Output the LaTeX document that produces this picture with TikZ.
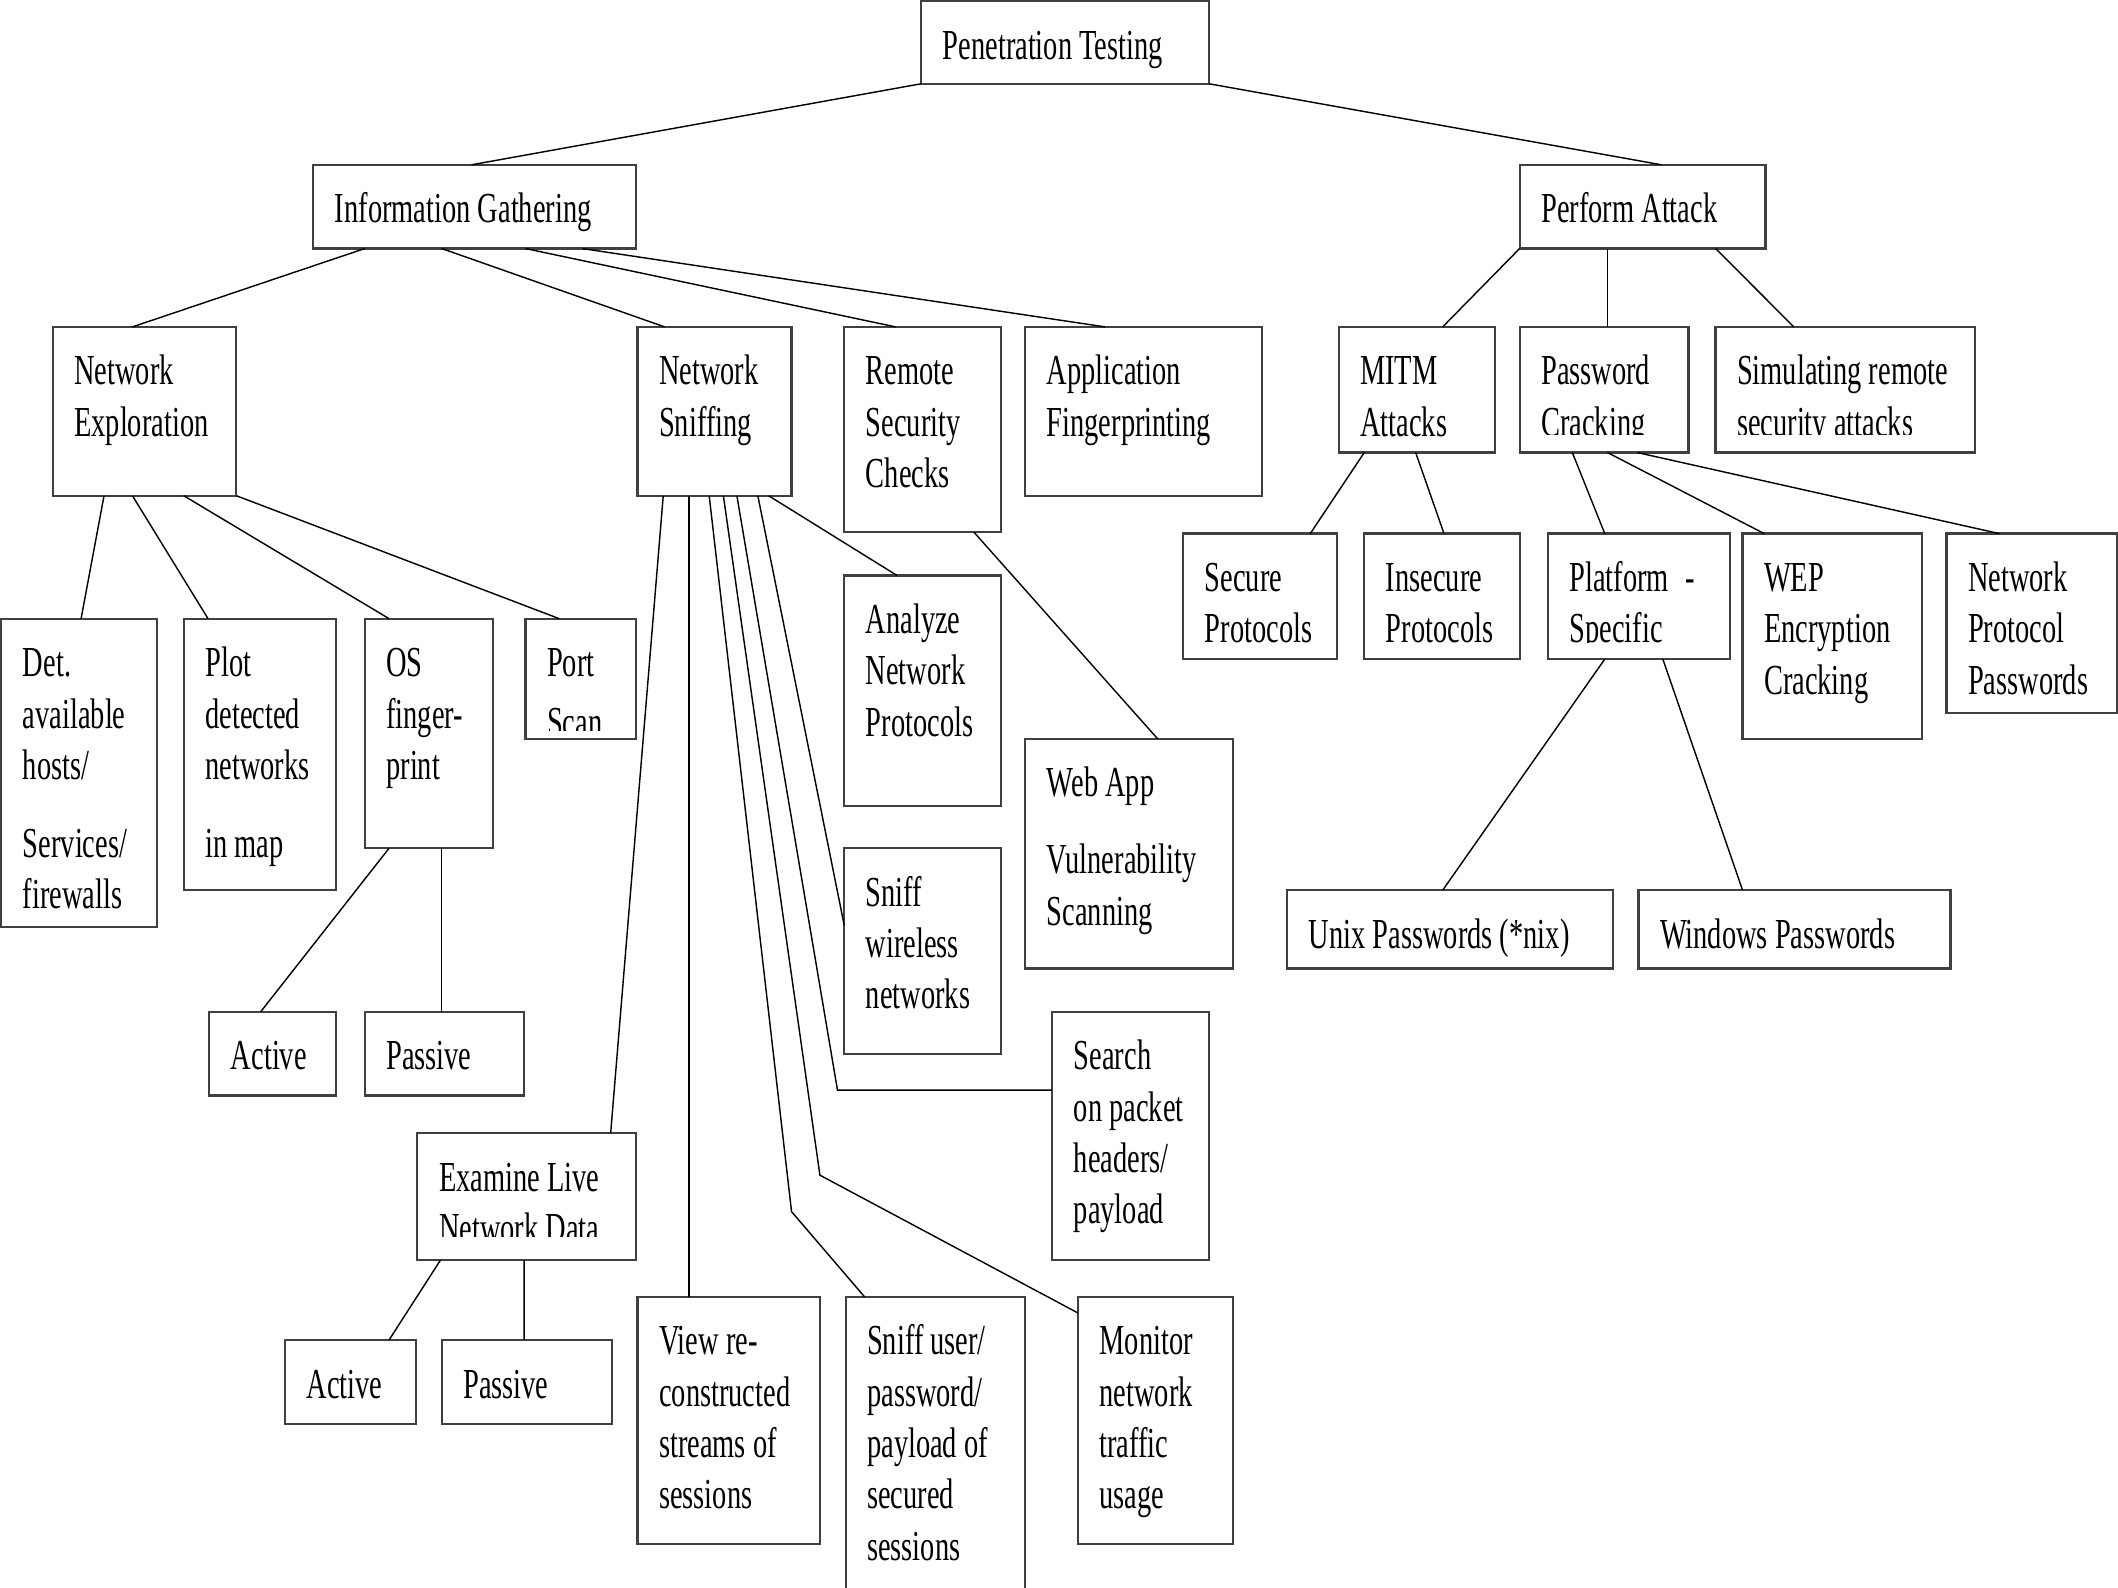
\documentclass[tikz,border=0pt]{standalone}
\usepackage{fontspec}
\setmainfont{Liberation Serif}[FakeStretch=0.665]
\newlength{\unitpx}
\setlength{\unitpx}{0.01cm}
% box text: width, height, lines (set from the top left corner)
\newcommand{\boxtext}[3]{%
  \parbox[c][#2\unitpx][t]{#1\unitpx}{\raggedright\leftskip=16\unitpx\relax
    \vspace*{20\unitpx}\rule{0pt}{23\unitpx}#3}}
% hide the lower part of a box text (cut-off lines)
\newcommand{\cuttext}[2]{%
  \fill[white] ([shift={(0.4pt,0.4pt)}]#1.south west) rectangle ([shift={(-0.4pt,#2)}]#1.south east);}
\tikzset{
  box/.style={rectangle,draw=black!75,line width=0.45pt,anchor=north west,inner sep=0pt,outer sep=0pt},
  link/.style={-,line width=0.3pt}
}

\begin{document}
\begin{tikzpicture}[x=0.01cm,y=-0.01cm,font=\fontsize{9pt}{10.8pt}\selectfont]
    \useasboundingbox (0,0) rectangle (1568,1175);

    % Top levels
    \node[box] (PT) at (682,1) {\boxtext{213}{61}{Penetration Testing}};
    \node[box] (IG) at (232,122) {\boxtext{239}{62}{Information Gathering}};
    \node[box] (PA) at (1125,122) {\boxtext{182}{62}{Perform Attack}};

    % Information gathering
    \node[box] (NetExp) at (39,242) {\boxtext{136}{125}{Network\\Exploration}};
    \node[box] (NetSniff) at (472,242) {\boxtext{114}{125}{Network\\Sniffing}};
    \node[box] (RemSec) at (625,242) {\boxtext{116}{152}{Remote\\Security\\Checks}};
    \node[box] (AppFP) at (759,242) {\boxtext{175}{125}{Application\\Fingerprinting}};

    \node[box] (DetHosts) at (1,458) {\boxtext{115}{228}{Det.\\available\\hosts/\\[20\unitpx]Services/\\firewalls}};
    \node[box] (PlotNet) at (136,458) {\boxtext{113}{201}{Plot\\detected\\networks\\[20\unitpx]in map}};
    \node[box] (OSFP) at (270,458) {\boxtext{95}{170}{OS\\finger-\\print}};
    \node[box] (PortScan) at (389,458) {\boxtext{82}{89}{Port\\[6\unitpx]Scan}};
    \node[box] (Active1) at (155,749) {\boxtext{94}{62}{Active}};
    \node[box] (Passive1) at (270,749) {\boxtext{118}{62}{Passive}};

    \node[box] (ExLive) at (309,839) {\boxtext{162}{94}{Examine Live\\Network Data}};
    \node[box] (Active2) at (211,992) {\boxtext{97}{62}{Active}};
    \node[box] (Passive2) at (327,992) {\boxtext{126}{62}{Passive}};
    \node[box] (ViewRe) at (472,960) {\boxtext{135}{183}{View re-\\constructed\\streams of\\sessions}};
    \node[box] (SniffUser) at (626,960) {\boxtext{133}{217}{Sniff user/\\password/\\payload of\\secured\\sessions}};
    \node[box] (Monitor) at (798,960) {\boxtext{115}{183}{Monitor\\network\\traffic\\usage}};
    \node[box] (Analyze) at (625,426) {\boxtext{116}{171}{Analyze\\Network\\Protocols}};
    \node[box] (SniffWl) at (625,628) {\boxtext{116}{152}{Sniff\\wireless\\networks}};
    \node[box] (Search) at (779,749) {\boxtext{116}{184}{Search\\on packet\\headers/\\payload}};
    \node[box] (WebApp) at (759,547) {\boxtext{154}{170}{Web App\\[19\unitpx]Vulnerability\\Scanning}};

    % Perform attack
    \node[box] (MITM) at (991,242) {\boxtext{116}{93}{MITM\\Attacks}};
    \node[box] (PwCrack) at (1125,242) {\boxtext{125}{93}{Password\\Cracking}};
    \node[box] (SimRem) at (1270,242) {\boxtext{192}{93}{Simulating remote\\security attacks}};
    \node[box] (SecProt) at (876,395) {\boxtext{114}{93}{Secure\\Protocols}};
    \node[box] (InsecProt) at (1010,395) {\boxtext{115}{93}{Insecure\\Protocols}};
    \node[box] (Platform) at (1146,395) {\boxtext{135}{93}{Platform\hspace{12\unitpx}-\\Specific}};
    \node[box] (WEP) at (1290,395) {\boxtext{133}{152}{WEP\\Encryption\\Cracking}};
    \node[box] (NetProt) at (1441,395) {\boxtext{126}{133}{Network\\Protocol\\Passwords}};
    \node[box] (UnixPw) at (953,659) {\boxtext{241}{58}{Unix Passwords (*nix)}};
    \node[box] (WinPw) at (1213,659) {\boxtext{231}{58}{Windows Passwords}};

    % Cut-off last lines
    \cuttext{PortScan}{0.06cm}
    \cuttext{ExLive}{0.17cm}
    \cuttext{PwCrack}{0.13cm}
    \cuttext{SimRem}{0.13cm}
    \cuttext{SecProt}{0.12cm}
    \cuttext{InsecProt}{0.12cm}
    \cuttext{Platform}{0.12cm}

    % Bends of the sniffing lines
    \coordinate (B1) at (586,897);
    \coordinate (B2) at (607,870);
    \coordinate (B3) at (620,807);

    \draw[link] (PT.south west) -- ([xshift=1.17cm]IG.north west);
    \draw[link] (PT.south east) -- ([xshift=1.05cm]PA.north west);

    \draw[link] ([xshift=0.38cm]IG.south west) -- ([xshift=0.59cm]NetExp.north west);
    \draw[link] ([xshift=0.95cm]IG.south west) -- ([xshift=0.20cm]NetSniff.north west);
    \draw[link] ([xshift=1.57cm]IG.south west) -- ([xshift=0.38cm]RemSec.north west);
    \draw[link] ([xshift=1.99cm]IG.south west) -- ([xshift=0.59cm]AppFP.north west);

    \draw[link] ([xshift=0.38cm]NetExp.south west) -- ([xshift=0.59cm]DetHosts.north west);
    \draw[link] ([xshift=0.59cm]NetExp.south west) -- ([xshift=0.18cm]PlotNet.north west);
    \draw[link] ([xshift=0.97cm]NetExp.south west) -- ([xshift=0.18cm]OSFP.north west);
    \draw[link] (NetExp.south east) -- ([xshift=0.25cm]PortScan.north west);
    \draw[link] ([xshift=0.18cm]OSFP.south west) -- ([xshift=0.38cm]Active1.north west);
    \draw[link] ([xshift=0.57cm]OSFP.south west) -- ([xshift=0.57cm]Passive1.north west);

    \draw[link] ([xshift=0.19cm]NetSniff.south west) -- ([xshift=1.43cm]ExLive.north west);
    \draw[link] ([xshift=0.38cm]NetSniff.south west) -- ([xshift=0.38cm]ViewRe.north west);
    \draw[link] ([xshift=0.53cm]NetSniff.south west) -- (B1) -- ([xshift=0.14cm]SniffUser.north west);
    \draw[link] ([xshift=0.635cm]NetSniff.south west) -- (B2) -- ([yshift=-0.12cm]Monitor.north west);
    \draw[link] ([xshift=0.735cm]NetSniff.south west) -- (B3) -- (B3 -| Search.west);
    \draw[link] ([xshift=0.89cm]NetSniff.south west) -- ([yshift=-0.57cm]SniffWl.north west);
    \draw[link] ([xshift=0.97cm]NetSniff.south west) -- ([xshift=0.39cm]Analyze.north west);
    \draw[link] ([xshift=0.17cm]ExLive.south west) -- ([xshift=0.77cm]Active2.north west);
    \draw[link] ([xshift=0.79cm]ExLive.south west) -- ([xshift=0.61cm]Passive2.north west);
    \draw[link] ([xshift=0.96cm]RemSec.south west) -- ([xshift=0.98cm]WebApp.north west);

    \draw[link] (PA.south west) -- ([xshift=0.77cm]MITM.north west);
    \draw[link] ([xshift=0.65cm]PA.south west) -- ([xshift=0.65cm]PwCrack.north west);
    \draw[link] ([xshift=1.45cm]PA.south west) -- ([xshift=0.58cm]SimRem.north west);
    \draw[link] ([xshift=0.19cm]MITM.south west) -- ([xshift=0.94cm]SecProt.north west);
    \draw[link] ([xshift=0.57cm]MITM.south west) -- ([xshift=0.59cm]InsecProt.north west);
    \draw[link] ([xshift=0.39cm]PwCrack.south west) -- ([xshift=0.42cm]Platform.north west);
    \draw[link] ([xshift=0.65cm]PwCrack.south west) -- ([xshift=0.16cm]WEP.north west);
    \draw[link] ([xshift=0.87cm]PwCrack.south west) -- ([xshift=0.39cm]NetProt.north west);
    \draw[link] ([xshift=0.42cm]Platform.south west) -- ([xshift=1.15cm]UnixPw.north west);
    \draw[link] ([xshift=0.85cm]Platform.south west) -- ([xshift=0.77cm]WinPw.north west);
\end{tikzpicture}
\end{document}
